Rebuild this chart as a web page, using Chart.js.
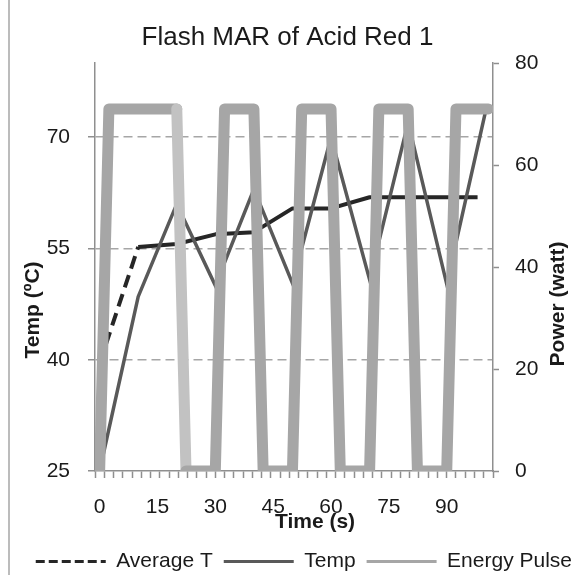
<!DOCTYPE html>
<html>
<head>
<meta charset="utf-8">
<script src="https://cdn.jsdelivr.net/npm/chart.js@4.4.1/dist/chart.umd.min.js"></script>
<style>
html,body{margin:0;padding:0;background:#fff;}
canvas{display:block;}
</style>
</head>
<body>
<canvas id="c" width="575" height="575" style="width:575px;height:575px"></canvas>
<script>
// ---- text ----
const chartTitle = 'Flash MAR of Acid Red 1';
const seriesNames = ['Average T', 'Temp', 'Energy Pulse'];
const xAxisTitle = 'Time (s)';
const yAxisTitle = 'Temp (ºC)';
const y2AxisTitle = 'Power (watt)';

// ---- tick labels ----
const xTickLabels = [0, 15, 30, 45, 60, 75, 90];
const yTickLabels = [25, 40, 55, 70];
const y2TickLabels = [0, 20, 40, 60, 80];

// ---- series values ----
const avgTime  = [0, 10, 20, 30, 40, 50, 60, 70, 80, 90, 98];
const avgTemp  = [39.5, 55.2, 55.6, 56.9, 57.2, 60.4, 60.4, 61.9, 61.9, 61.9, 61.9];

const tempTime = [0, 10, 20, 30, 40, 50, 60, 70, 80, 90, 100];
const tempVal  = [25, 48.5, 61, 50, 63, 50.3, 70, 50.8, 72, 50.2, 73.3];

const pulseTime  = [0, 2.4, 20, 22.4, 30, 32.4, 40, 42.4, 50, 52.4, 60, 62.4, 70, 72.4, 80, 82.4, 90, 92.4, 100.8];
const pulsePower = [0, 71, 71, 0, 0, 71, 71, 0, 0, 71, 71, 0, 0, 71, 71, 0, 0, 71, 71];

// ---- styling ----
const FONT = "'Liberation Sans', Arial, Helvetica, sans-serif";
const TXT = '#1a1a1a';
const AXIS = '#8f8f8f';
const xMin = -1.2, xMax = 102, xMinorStep = 2.4;

function r2(v){ return Math.round(v * 100) / 100; }
const minorTicks = [];
for (let k = 0; r2(xMin + k * xMinorStep) <= xMax; k++) minorTicks.push(r2(xMin + k * xMinorStep));
function isMinor(v){ return minorTicks.some(m => Math.abs(m - v) < 1e-6); }
function isLabel(v){ return xTickLabels.some(m => Math.abs(m - v) < 1e-6); }

const decor = {
  id: 'decor',
  beforeDraw(chart) {
    const ctx = chart.ctx;
    ctx.save();
    ctx.strokeStyle = '#a6a6a6';
    ctx.lineWidth = 1.5;
    ctx.beginPath();
    ctx.moveTo(9, 0); ctx.lineTo(9, chart.height);
    ctx.stroke();
    ctx.restore();
  },
  afterDraw(chart) {
    const ctx = chart.ctx;
    const ca = chart.chartArea;
    const cy = (ca.top + ca.bottom) / 2;
    ctx.save();
    ctx.fillStyle = TXT;
    ctx.font = 'bold 21px ' + FONT;
    ctx.textAlign = 'center';
    ctx.textBaseline = 'middle';
    ctx.fillText(xAxisTitle, (ca.left + ca.right) / 2 + 21, ca.bottom + 51);
    ctx.save();
    ctx.translate(33, cy + 43);
    ctx.rotate(-Math.PI / 2);
    ctx.fillText(yAxisTitle, 0, 0);
    ctx.restore();
    ctx.save();
    ctx.translate(558, cy + 37);
    ctx.rotate(-Math.PI / 2);
    ctx.fillText(y2AxisTitle, 0, 0);
    ctx.restore();
    ctx.restore();
  }
};

const legendStyles = [
  { strokeStyle: '#262626', lineWidth: 3, lineDash: [9, 4] },
  { strokeStyle: '#595959', lineWidth: 3, lineDash: [] },
  { strokeStyle: '#a6a6a6', lineWidth: 3, lineDash: [] }
];

new Chart(document.getElementById('c'), {
  type: 'line',
  plugins: [decor],
  data: {
    datasets: [
      {
        label: seriesNames[0],
        data: avgTime.map((t, i) => ({ x: t, y: avgTemp[i] })),
        yAxisID: 'y',
        borderColor: '#262626',
        borderWidth: 4,
        borderDash: [],
        borderJoinStyle: 'round',
        pointRadius: 0,
        tension: 0,
        order: 3,
        segment: { borderDash: c => (c.p0DataIndex === 0 ? [13, 7] : undefined) }
      },
      {
        label: seriesNames[1],
        data: tempTime.map((t, i) => ({ x: t, y: tempVal[i] })),
        yAxisID: 'y',
        borderColor: '#595959',
        borderWidth: 3.5,
        pointRadius: 0,
        tension: 0,
        order: 2
      },
      {
        label: seriesNames[2],
        data: pulseTime.map((t, i) => ({ x: t, y: pulsePower[i] })),
        yAxisID: 'y2',
        borderColor: '#a6a6a6',
        borderWidth: 11,
        borderJoinStyle: 'round',
        borderCapStyle: 'round',
        pointRadius: 0,
        tension: 0,
        order: 1,
        segment: { borderColor: c => (c.p0DataIndex === 2 ? '#c2c2c2' : undefined) }
      }
    ]
  },
  options: {
    responsive: false,
    animation: false,
    devicePixelRatio: 1,
    layout: { padding: { left: -8, right: -8, top: 0, bottom: -7 } },
    plugins: {
      tooltip: { enabled: false },
      title: {
        display: true,
        text: chartTitle,
        color: TXT,
        font: { family: FONT, size: 26, weight: 'normal', lineHeight: 1.2 },
        padding: { top: 22, bottom: 9.8 }
      },
      legend: {
        position: 'bottom',
        align: 'end',
        labels: {
          usePointStyle: true,
          pointStyle: 'line',
          pointStyleWidth: 70,
          padding: 11,
          color: TXT,
          font: { family: FONT, size: 21 },
          generateLabels: () => seriesNames.map((n, i) => ({
            text: n,
            fillStyle: 'rgba(0,0,0,0)',
            strokeStyle: legendStyles[i].strokeStyle,
            lineWidth: legendStyles[i].lineWidth,
            lineDash: legendStyles[i].lineDash,
            pointStyle: 'line',
            fontColor: TXT,
            hidden: false,
            datasetIndex: i
          }))
        }
      }
    },
    scales: {
      x: {
        type: 'linear',
        position: 'bottom',
        min: xMin,
        max: xMax,
        afterBuildTicks: s => {
          const vals = minorTicks.slice();
          xTickLabels.forEach(v => { if (!isMinor(v)) vals.push(v); });
          vals.sort((a, b) => a - b);
          s.ticks = vals.map(v => ({ value: v }));
        },
        afterFit: s => { s.height = 69; },
        ticks: {
          autoSkip: false,
          maxRotation: 0,
          minRotation: 0,
          padding: 17,
          color: TXT,
          font: { family: FONT, size: 21 },
          callback: v => (isLabel(v) ? String(Math.round(v)) : '')
        },
        grid: {
          drawOnChartArea: false,
          drawTicks: true,
          tickLength: 7,
          tickWidth: 1.5,
          tickColor: c => (c.tick && isMinor(c.tick.value) ? AXIS : 'rgba(0,0,0,0)')
        },
        border: { color: AXIS, width: 1.5 }
      },
      y: {
        type: 'linear',
        position: 'left',
        min: 25,
        max: 80,
        afterBuildTicks: s => { s.ticks = yTickLabels.map(v => ({ value: v })); },
        afterFit: s => { s.width = 103; },
        ticks: { padding: 18, color: TXT, font: { family: FONT, size: 21 } },
        grid: {
          color: c => (c.tick && c.tick.value === 25 ? 'rgba(0,0,0,0)' : '#a6a6a6'),
          lineWidth: 1.5,
          tickLength: 7,
          tickWidth: 1.5,
          tickColor: AXIS
        },
        border: { color: AXIS, width: 1.5, dash: [9, 5] }
      },
      y2: {
        type: 'linear',
        position: 'right',
        min: 0,
        max: 80,
        afterBuildTicks: s => { s.ticks = y2TickLabels.map(v => ({ value: v })); },
        afterFit: s => { s.width = 90; },
        ticks: { padding: 16, color: TXT, font: { family: FONT, size: 21 } },
        grid: {
          drawOnChartArea: false,
          tickLength: 6,
          tickWidth: 1.5,
          tickColor: AXIS
        },
        border: { color: AXIS, width: 1.5 }
      }
    }
  }
});
</script>
</body>
</html>
